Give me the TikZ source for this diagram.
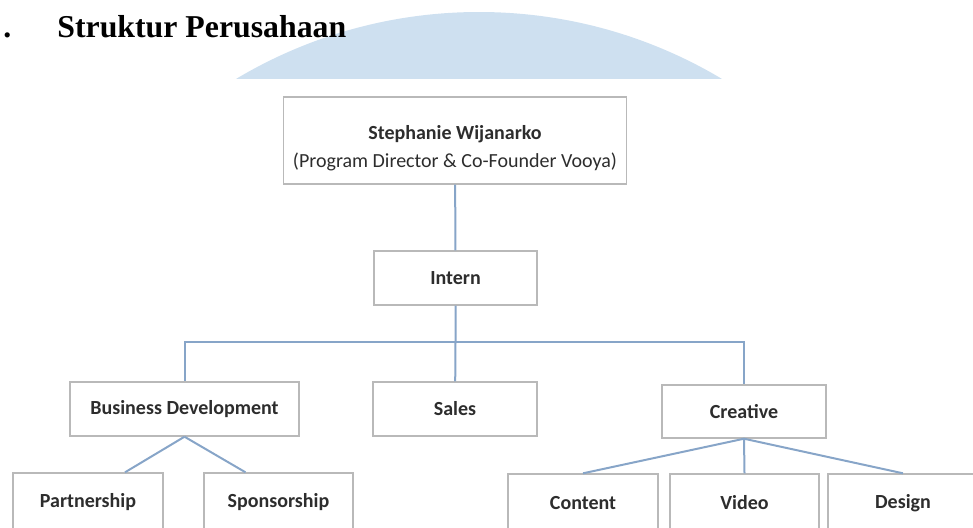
\documentclass[tikz,border=0pt]{standalone}
\usepackage{fontspec}
\setmainfont{Carlito}
\newfontfamily\titlefont{Liberation Serif}
\usetikzlibrary{positioning}

\definecolor{wmblue}{RGB}{206,224,240}
\definecolor{boxgray}{RGB}{185,185,185}
\definecolor{linkblue}{RGB}{135,165,200}
\definecolor{textgray}{RGB}{45,45,45}

\begin{document}
\begin{tikzpicture}[x=0.5pt, y=-0.5pt,
        box/.style={draw=boxgray, line width=0.7pt, fill=white, inner sep=0pt,
            text=textgray, font=\fontsize{10}{14}\selectfont\bfseries},
        link/.style={draw=linkblue, line width=1pt}]
        \clip (0,0) rectangle (973,527);
        \useasboundingbox (0,0) rectangle (973,527);

        % watermark arc behind the title
        \begin{scope}
            \clip (0,0) rectangle (973,78);
            \fill[wmblue] (479,486) circle (474);
        \end{scope}

        \node[anchor=base west, inner sep=0pt, font=\titlefont\fontsize{15.9}{18}\selectfont\bfseries] (Bullet) at (3,37) {.};
        \node[anchor=base west, inner sep=0pt, font=\titlefont\fontsize{15.9}{18}\selectfont\bfseries] (Title) at (57,37) {Struktur Perusahaan};

        \node[box, minimum width=171.5pt, minimum height=43.5pt, align=center] (Stephanie) at (455,140.5)
            {\begin{tabular}{@{}c@{}}\rule{0pt}{17pt}Stephanie Wijanarko\\[0pt]\mdseries (Program Director \& Co-Founder Vooya)\end{tabular}};
        \node[box, minimum width=81.5pt, minimum height=27pt] (Intern) at (455.5,278) {Intern};
        \node[box, minimum width=114.5pt, minimum height=27pt] (BusinessDev) at (184.5,409) {Business Development};
        \node[box, minimum width=82pt, minimum height=27pt] (Sales) at (455,409) {Sales};
        \node[box, minimum width=82pt, minimum height=26.5pt] (Creative) at (744,411.5) {Creative};
        \node[box, minimum width=75pt, minimum height=29pt] (Partnership) at (88,502) {Partnership};
        \node[box, minimum width=74.5pt, minimum height=29pt] (Sponsorship) at (278.5,502) {Sponsorship};
        \node[box, minimum width=75pt, minimum height=29pt] (Content) at (583,503) {Content};
        \node[box, minimum width=74.5pt, minimum height=29pt] (Video) at (744.5,503) {Video};
        \node[box, minimum width=75pt, minimum height=29pt] (Design) at (903,503) {Design};

        \coordinate (Hub) at (455.5,342);

        \draw[link] (Stephanie) -- (Intern);
        \draw[link] (Intern) -- (Hub) -- (Sales);
        \draw[link] (Hub) -| (BusinessDev);
        \draw[link] (Hub) -| (Creative);
        \draw[link] (BusinessDev.south) -- ([xshift=18.5pt]Partnership.north);
        \draw[link] (BusinessDev.south) -- ([xshift=-16.5pt]Sponsorship.north);
        \draw[link] (Creative.south) -- (Content.north);
        \draw[link] (Creative.south) -- (Video.north);
        \draw[link] (Creative.south) -- (Design.north);

    \end{tikzpicture}
\end{document}
